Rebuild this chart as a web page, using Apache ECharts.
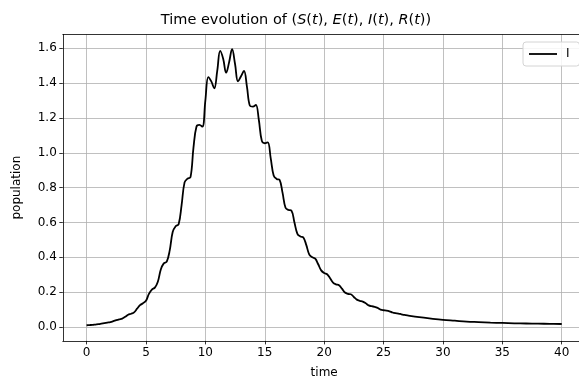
<!DOCTYPE html>
<html>
<head>
<meta charset="utf-8">
<script src="https://cdn.jsdelivr.net/npm/echarts@6/dist/echarts.min.js"></script>
<style>html,body{margin:0;padding:0;background:#fff;overflow:hidden;width:579px;height:387px}#c{width:600px;height:387px}</style>
</head>
<body>
<div id="c"></div>
<script>
var times = [0,0.25,0.5,0.75,1,1.25,1.5,1.75,2,2.25,2.5,2.75,3,3.25,3.5,3.75,4,4.25,4.5,4.75,5,5.25,5.5,5.75,6,6.25,6.5,6.75,7,7.25,7.5,7.75,8,8.25,8.5,8.75,9,9.25,9.5,9.75,10,10.25,10.5,10.75,11,11.25,11.5,11.75,12,12.25,12.5,12.75,13,13.25,13.5,13.75,14,14.25,14.5,14.75,15,15.25,15.5,15.75,16,16.25,16.5,16.75,17,17.25,17.5,17.75,18,18.25,18.5,18.75,19,19.25,19.5,19.75,20,20.25,20.5,20.75,21,21.25,21.5,21.75,22,22.25,22.5,22.75,23,23.25,23.5,23.75,24,24.25,24.5,24.75,25,25.25,25.5,25.75,26,26.25,26.5,26.75,27,28,29,30,31,32,33,34,35,36,37,38,39,40];
var infected = [0.010,0.011,0.012,0.014,0.016,0.019,0.022,0.025,0.028,0.033,0.039,0.044,0.048,0.058,0.070,0.076,0.084,0.105,0.125,0.136,0.150,0.190,0.215,0.226,0.260,0.330,0.365,0.375,0.440,0.545,0.578,0.590,0.700,0.830,0.852,0.860,1.030,1.150,1.160,1.150,1.300,1.435,1.410,1.370,1.470,1.585,1.540,1.460,1.520,1.595,1.510,1.410,1.440,1.470,1.380,1.270,1.265,1.275,1.190,1.070,1.055,1.060,0.970,0.870,0.850,0.845,0.770,0.685,0.672,0.668,0.600,0.535,0.520,0.514,0.470,0.415,0.400,0.392,0.360,0.325,0.310,0.303,0.280,0.255,0.245,0.240,0.220,0.198,0.190,0.188,0.172,0.157,0.150,0.146,0.136,0.124,0.119,0.116,0.110,0.100,0.096,0.094,0.090,0.083,0.079,0.077,0.073,0.069,0.066,0.056,0.048,0.041,0.036,0.031,0.028,0.025,0.023,0.021,0.020,0.019,0.018,0.017];
var xTicks = [0,5,10,15,20,25,30,35,40];
var yTicks = [0,0.2,0.4,0.6,0.8,1.0,1.2,1.4,1.6];
var seriesName = 'I';

var pts = times.map(function(t,i){return [t, infected[i]];});
var FONT = 'DejaVu Sans';
var chart = echarts.init(document.getElementById('c'), null, {renderer:'canvas', width: 600, height: 387});
chart.setOption({
  animation: false,
  backgroundColor: '#fff',
  title: {
    text: '{n|Time evolution of (}{i|S}{n|(}{i|t}{n|), }{i|E}{n|(}{i|t}{n|), }{i|I}{n|(}{i|t}{n|), }{i|R}{n|(}{i|t}{n|))}',
    left: 291, top: 8, textAlign: 'center',
    textStyle: {
      fontFamily: FONT, fontSize: 14.5, fontWeight: 'normal', color: '#000',
      rich: {
        n: {fontFamily: FONT, fontSize: 14.5, color: '#000'},
        i: {fontFamily: FONT, fontSize: 14.5, fontStyle: 'italic', color: '#000'}
      }
    }
  },
  legend: {
    left: 523, top: 42,
    padding: [6, 10, 6, 6],
    itemWidth: 28, itemHeight: 1.8, itemGap: 6,
    icon: 'rect',
    borderColor: '#d4d4d4', borderWidth: 1, borderRadius: 3,
    backgroundColor: 'rgba(255,255,255,0.85)',
    textStyle: {fontFamily: FONT, fontSize: 12, color: '#000', padding: [0,0,0,4]},
    data: [seriesName]
  },
  grid: {left: 62.8, top: 34.4, width: 522.7, height: 306.5, containLabel: false},
  xAxis: [{
    type: 'value', min: -2, max: 42,
    name: 'time', nameLocation: 'middle', nameGap: 26,
    nameTextStyle: {fontFamily: FONT, fontSize: 12, color: '#000'},
    axisLine: {show: true, onZero: false, lineStyle: {color: '#000', width: 0.8}},
    axisTick: {show: true, customValues: xTicks, length: 3.5, lineStyle: {color: '#000', width: 0.8}},
    axisLabel: {customValues: xTicks, fontFamily: FONT, fontSize: 12, color: '#000', margin: 6},
    splitLine: {show: true, lineStyle: {color: '#b0b0b0', width: 0.8}}
  }, {
    type: 'value', min: -2, max: 42, position: 'top',
    axisLine: {show: true, onZero: false, lineStyle: {color: '#000', width: 0.8}},
    axisTick: {show: false}, axisLabel: {show: false}, splitLine: {show: false}
  }],
  yAxis: [{
    type: 'value', min: -0.08, max: 1.68,
    name: 'population', nameLocation: 'middle', nameGap: 40, nameRotate: 90,
    nameTextStyle: {fontFamily: FONT, fontSize: 12, color: '#000'},
    axisLine: {show: true, onZero: false, lineStyle: {color: '#000', width: 0.8}},
    axisTick: {show: true, customValues: yTicks, length: 3.5, lineStyle: {color: '#000', width: 0.8}},
    axisLabel: {customValues: yTicks, fontFamily: FONT, fontSize: 12, color: '#000', margin: 6,
      formatter: function(v){return v.toFixed(1);}},
    splitLine: {show: true, lineStyle: {color: '#b0b0b0', width: 0.8}}
  }, {
    type: 'value', min: -0.08, max: 1.68, position: 'right',
    axisLine: {show: true, onZero: false, lineStyle: {color: '#000', width: 0.8}},
    axisTick: {show: false}, axisLabel: {show: false}, splitLine: {show: false}
  }],
  series: [{
    name: seriesName, type: 'line', data: pts, smooth: 0.4,
    xAxisIndex: 0, yAxisIndex: 0,
    symbol: 'none', clip: true,
    lineStyle: {color: '#000', width: 1.8},
    itemStyle: {color: '#000'}
  }]
});
</script>
</body>
</html>
